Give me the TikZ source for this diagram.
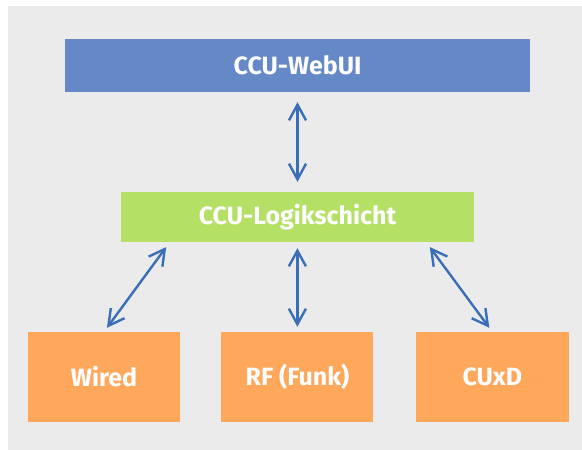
\documentclass[tikz,border=0pt]{standalone}
\usepackage{fontspec}
\setmainfont{Fira Sans}
\usetikzlibrary{arrows.meta,positioning}
\definecolor{bggray}{HTML}{EBEBEB}
\definecolor{boxblue}{HTML}{6489C6}
\definecolor{boxgreen}{HTML}{B5E066}
\definecolor{boxorange}{HTML}{FFA75B}
\definecolor{arrblue}{HTML}{3A6FB7}
\tikzset{
  layer/.style={rectangle, inner sep=0pt, text=white,
    font=\fontsize{25}{28}\selectfont\bfseries},
  link/.style={{Straight Barb[length=5.5mm,width=6mm]}-{Straight Barb[length=5.5mm,width=6mm]},
    line width=2.4pt, arrblue, shorten <=6pt, shorten >=5pt},
}
\begin{document}
\begin{tikzpicture}[x=1pt,y=-1pt]
  \useasboundingbox (0,0) rectangle (582,450);
  \fill[bggray] (8,6) rectangle (582,450);
  % --- layers ---
  \node[layer, fill=boxblue, minimum width=465pt, minimum height=53pt] (webui) at (297.5,65.5) {CCU-WebUI};
  \node[layer, fill=boxgreen, minimum width=353pt, minimum height=50pt] (logik) at (297.5,217) {CCU-Logikschicht};
  % --- interfaces ---
  \node[layer, fill=boxorange, minimum width=152pt, minimum height=90pt] (wired) at (104,377) {Wired};
  \node[layer, fill=boxorange, minimum width=152pt, minimum height=90pt, right=41pt of wired] (rf) {RF (Funk)};
  \node[layer, fill=boxorange, minimum width=153pt, minimum height=90pt, right=42pt of rf] (cuxd) {CUxD};
  % --- links ---
  \draw[link, shorten <=10pt, shorten >=10pt] (webui) -- (logik);
  \draw[link] ([xshift=49pt]logik.south west) -- (wired.north);
  \draw[link] (logik.south-|rf.north) -- (rf.north);
  \draw[link] ([xshift=-48pt]logik.south east) -- (cuxd.north);
\end{tikzpicture}
\end{document}
